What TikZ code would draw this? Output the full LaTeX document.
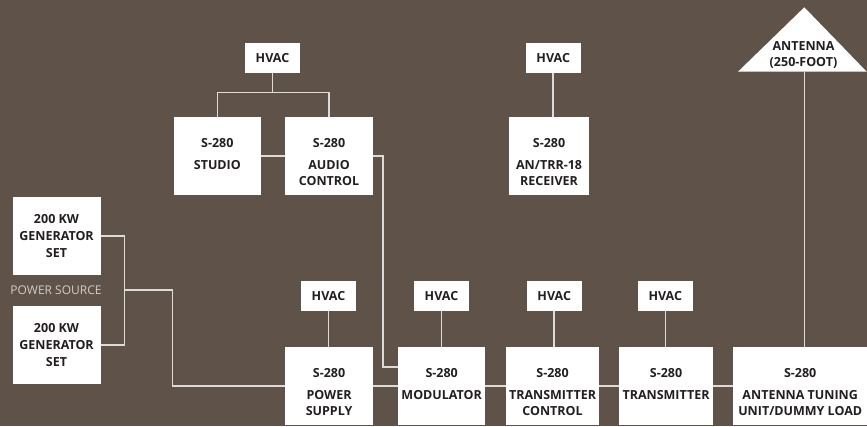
\documentclass[tikz,border=0pt]{standalone}
\usepackage{fontspec}
\setmainfont{Open Sans}
\usetikzlibrary{calc}
\definecolor{bg}{RGB}{94,82,73}
\definecolor{ln}{RGB}{222,218,214}
\definecolor{pscol}{RGB}{210,205,200}
\definecolor{txt}{RGB}{35,31,32}
\begin{document}
\begin{tikzpicture}[x=1pt,y=-1pt,
  box/.style={fill=white, inner sep=0pt, minimum height=78pt, anchor=north west},
  hvac/.style={fill=white, inner sep=0pt, minimum width=55pt, minimum height=30pt,
    font=\bfseries\fontsize{12.5}{15}\selectfont, text=txt},
  lbl/.style={font=\bfseries\fontsize{12.5}{16}\selectfont, align=center, inner sep=0pt,
    anchor=north, text=txt},
  glbl/.style={font=\bfseries\fontsize{12.5}{16.7}\selectfont, align=center, inner sep=0pt,
    text=txt},
  wire/.style={draw=ln, line width=1.5pt}]
\fill[bg] (0,0) rectangle (867,426);
\useasboundingbox (0,0) rectangle (867,426);

% top row
\node[hvac] (h1) at (272.5,57.7) {HVAC};
\node[box, minimum width=87.7pt] (studio) at (173.3,117) {};
\node[lbl] (studio-t) at ([yshift=-21.5pt]studio.north) {S-280\\[5.5pt]STUDIO};
\node[box, minimum width=87.7pt] (audio) at (285,117) {};
\node[lbl] (audio-t) at ([yshift=-21.5pt]audio.north) {S-280\\[5.5pt]AUDIO\\CONTROL};
\node[hvac] (hrx) at (553.2,57.7) {HVAC};
\node[box, minimum width=79.7pt] (rx) at (509,117) {};
\node[lbl] (rx-t) at ([yshift=-21.5pt]rx.north) {S-280\\[5.5pt]AN/TRR-18\\RECEIVER};

% antenna
\fill[white] (738,71.7) -- (804.3,7.3) -- (866.7,71.7) -- cycle;
\node[glbl, font=\bfseries\fontsize{12.5}{16}\selectfont] (ant) at (803.5,54.7) {ANTENNA\\(250-FOOT)};
\coordinate (antb) at (804.3,71.7);

% generators
\node[box, minimum width=88pt] (gen1) at (12.3,196.7) {};
\node[glbl] (gen1-t) at (gen1.center) {200 KW\\GENERATOR\\SET};
\node[box, minimum width=88pt] (gen2) at (12.3,306) {};
\node[glbl] (gen2-t) at (gen2.center) {200 KW\\GENERATOR\\SET};
\node[font=\fontsize{12}{14}\selectfont, text=pscol, inner sep=0pt] (psrc) at (56,290) {POWER SOURCE};

% bottom row
\node[hvac] (hps) at (328.5,296) {HVAC};
\node[box, minimum width=87.7pt] (ps) at (285,347) {};
\node[lbl] (ps-t) at ([yshift=-21.5pt]ps.north) {S-280\\[5.5pt]POWER\\SUPPLY};
\node[hvac] (hmod) at (441.5,296) {HVAC};
\node[box, minimum width=87pt] (mod) at (398,347) {};
\node[lbl] (mod-t) at ([yshift=-21.5pt]mod.north) {S-280\\[5.5pt]MODULATOR};
\node[hvac] (htc) at (554.2,296) {HVAC};
\node[box, minimum width=92.7pt] (tc) at (506,347) {};
\node[lbl] (tc-t) at ([yshift=-21.5pt]tc.north) {S-280\\[5.5pt]TRANSMITTER\\CONTROL};
\node[hvac] (htx) at (665.3,296) {HVAC};
\node[box, minimum width=93.7pt] (tx) at (619,347) {};
\node[lbl] (tx-t) at ([yshift=-21.5pt]tx.north) {S-280\\[5.5pt]TRANSMITTER};
\node[box, minimum width=134pt] (atu) at (733,347) {};
\node[lbl] (atu-t) at ([yshift=-21.5pt]atu.north) {S-280\\[5.5pt]ANTENNA TUNING\\UNIT/DUMMY LOAD};

% wires
\coordinate (hj) at (272.5,92.7);
\draw[wire] (h1.south) -- (hj);
\draw[wire] (studio.north) |- (hj) -| (audio.north);
\draw[wire] (studio.east) -- (audio.west);
\draw[wire] (hrx.south) -- (hrx.south |- rx.north);
\coordinate (am) at (383,367);
\draw[wire] (audio.east) -| (am) -- (am -| mod.west);
\draw[wire] (antb) -- (antb |- atu.north);
\coordinate (gj) at (124.3,290);
\coordinate (pj) at (172.7,290);
\draw[wire] (gen1.east) -| (gj) |- (gen2.east);
\draw[wire] (gj) -- (pj) |- (ps.west);
\draw[wire] (hps.south) -- (hps.south |- ps.north);
\draw[wire] (hmod.south) -- (hmod.south |- mod.north);
\draw[wire] (htc.south) -- (htc.south |- tc.north);
\draw[wire] (htx.south) -- (htx.south |- tx.north);
\draw[wire] (ps.east) -- (mod.west);
\draw[wire] (mod.east) -- (tc.west);
\draw[wire] (tc.east) -- (tx.west);
\draw[wire] (tx.east) -- (atu.west);
\end{tikzpicture}
\end{document}
